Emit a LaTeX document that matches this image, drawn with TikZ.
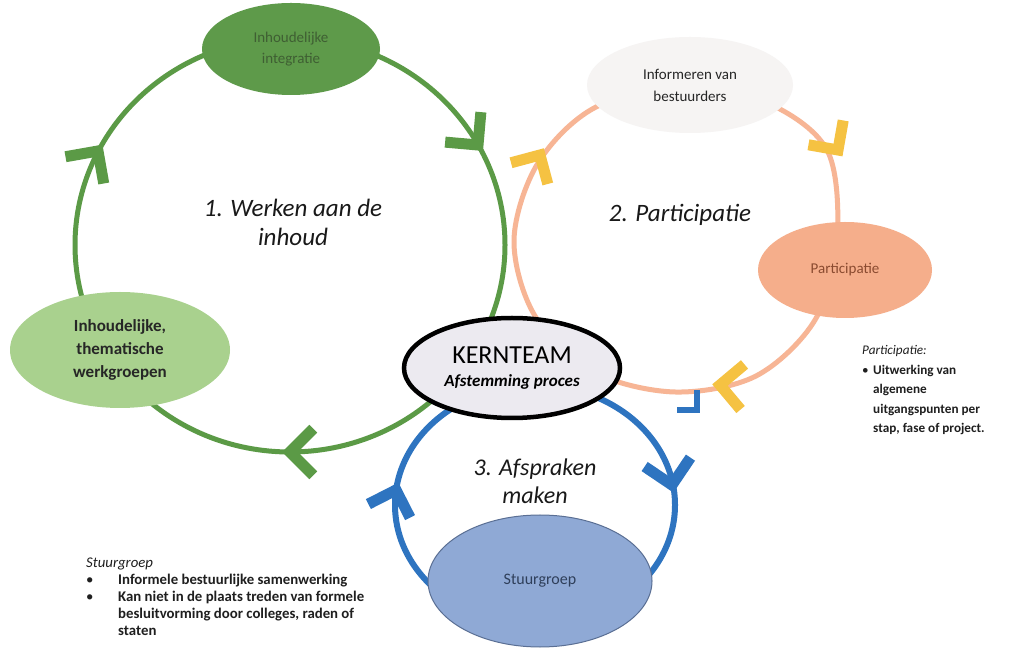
\documentclass[tikz,border=0pt]{standalone}
\usepackage{fontspec}
\setmainfont{Carlito}
\usetikzlibrary{shapes.geometric}
\definecolor{gline}{HTML}{5B9A46}
\definecolor{gdark}{HTML}{5E9A4A}
\definecolor{glight}{HTML}{A9D18E}
\definecolor{gtext}{HTML}{3F5F33}
\definecolor{oline}{HTML}{F7B595}
\definecolor{ofill}{HTML}{F5AE8B}
\definecolor{otext}{HTML}{8A4B30}
\definecolor{ifill}{HTML}{F6F4F3}
\definecolor{yarrow}{HTML}{F5C242}
\definecolor{bline}{HTML}{2E74C0}
\definecolor{bfill}{HTML}{8FA9D5}
\definecolor{bborder}{HTML}{5A6F94}
\definecolor{btext}{HTML}{2F3F5A}
\definecolor{kfill}{HTML}{ECEAF0}
\tikzset{
  loop/.style={line width=5pt},
  chevron/.style={line width=11pt, line join=miter, line cap=butt},
  bubble/.style={ellipse, inner sep=0pt, align=center},
  title/.style={font=\fontsize{25}{29}\selectfont\itshape, align=center, text=black!90},
  note/.style={anchor=north west, inner sep=0pt, text=black!88}
}
\newcommand\chev[5]{\draw[chevron,#1] (#2,#3) +(#4+135:#5) -- (#2,#3) -- +(#4-135:#5);}
\begin{document}
\begin{tikzpicture}[x=1pt,y=1pt]
\useasboundingbox (0,0) rectangle (1024,650);
\fill[white] (0,0) rectangle (1024,650);
% loops
\draw[loop, gline] (290,405) ellipse [x radius=215, y radius=207];
\draw[loop, oline] plot[smooth cycle, tension=0.55] coordinates {
 (837,410) (828,498) (772,545) (690,565) (596,543) (538,487)
 (514,410) (535,334) (594,278) (675,258) (756,274) (815,330)};
\draw[loop, bline, line width=6pt] (535,145) ellipse [x radius=140, y radius=120];
% chevrons
\chev{gline}{478}{505}{-50}{33}
\chev{gline}{98}{499}{55}{33}
\chev{gline}{290}{198}{180}{33}
\chev{yarrow}{540}{495}{60}{30}
\chev{yarrow}{838}{500}{-55}{30}
\chev{bline, line width=6pt}{697}{240}{-45}{20}
\chev{yarrow}{720}{265}{175}{32}
\chev{bline}{672}{165}{-79}{33}
\chev{bline}{396}{160}{72}{31}
% nodes
\node[bubble, fill=gdark, minimum width=178pt, minimum height=92pt,
  font=\fontsize{15}{21}\selectfont, text=gtext] (integratie) at (291,601) {Inhoudelijke\\integratie};
\node[bubble, fill=glight, minimum width=220pt, minimum height=116pt,
  font=\fontsize{17}{23}\selectfont\bfseries, text=black!85] (werkgroepen) at (120,300) {Inhoudelijke,\\thematische\\werkgroepen};
\node[bubble, fill=ifill, minimum width=206pt, minimum height=96pt,
  font=\fontsize{15}{22}\selectfont, text=black!85] (informeren) at (690,565) {Informeren van\\bestuurders};
\node[bubble, fill=ofill, minimum width=174pt, minimum height=96pt,
  font=\fontsize{15}{20}\selectfont, text=otext] (participatie) at (845,380) {Participatie};
\node[bubble, fill=bfill, draw=bborder, line width=1pt, minimum width=224pt, minimum height=132pt,
  font=\fontsize{16}{20}\selectfont, text=btext] (stuurgroep) at (540,69) {Stuurgroep};
\node[bubble, fill=kfill, draw=black, line width=4.5pt, minimum width=216pt, minimum height=100pt,
  font=\fontsize{17}{23}\selectfont, text=black] (kernteam) at (512,282)
  {{\fontsize{26}{23}\selectfont KERNTEAM}\\{\bfseries\itshape Afstemming proces}};
% titles
\node[title] (t1) at (293,428) {1. Werken aan de\\inhoud};
\node[title] (t2) at (680,435) {2. Participatie};
\node[title, font=\fontsize{24}{28}\selectfont\itshape] (t3) at (535,169) {3. Afspraken\\maken};
% notes
\node[note] (pnote) at (862,309) {\fontsize{13.2}{19.5}\selectfont
  \begin{tabular}{@{}p{11pt}@{}l@{}}
  \multicolumn{2}{@{}l@{}}{\textit{Participatie:}}\\
  \textbullet & \textbf{Uitwerking van}\\
   & \textbf{algemene}\\
   & \textbf{uitgangspunten per}\\
   & \textbf{stap, fase of project.}
  \end{tabular}};
\node[note] (snote) at (86,94) {\fontsize{14.8}{16.8}\selectfont
  \begin{tabular}{@{}p{32pt}@{}l@{}}
  \multicolumn{2}{@{}l@{}}{\textit{Stuurgroep}}\\
  \textbullet & \textbf{Informele bestuurlijke samenwerking}\\
  \textbullet & \textbf{Kan niet in de plaats treden van formele}\\
   & \textbf{besluitvorming door colleges, raden of}\\
   & \textbf{staten}
  \end{tabular}};
\end{tikzpicture}
\end{document}
